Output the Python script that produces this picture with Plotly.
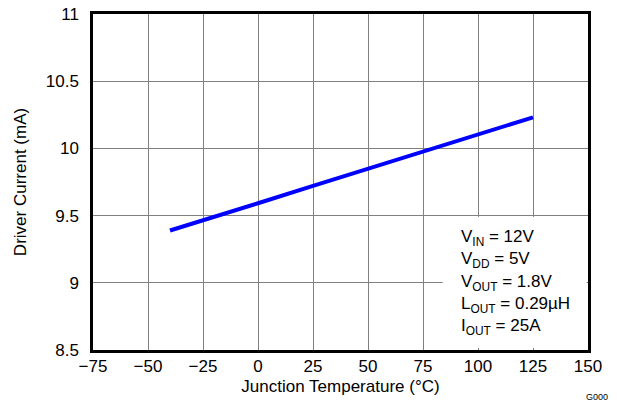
import plotly.graph_objects as go

temps = [-40, -25, 0, 25, 50, 75, 100, 125]
current = [9.389, 9.468, 9.592, 9.721, 9.85, 9.976, 10.105, 10.231]
x_ticks = [-75, -50, -25, 0, 25, 50, 75, 100, 125, 150]
y_ticks = [8.5, 9, 9.5, 10, 10.5, 11]
y_labels = ["8.5", "9", "9.5", "10", "10.5", "11"]
cond_lines = ["V<sub>IN</sub> = 12V", "V<sub>DD</sub> = 5V", "V<sub>OUT</sub> = 1.8V",
              "L<sub>OUT</sub> = 0.29µH", "I<sub>OUT</sub> = 25A"]

FONT = "Liberation Sans, Arial, sans-serif"
OFF = 8  # page body margin
W, H = 621 - OFF, 404 - OFF
L, T = 93 - OFF, 14 - OFF
PW, PH = 495, 336
R, B = W - L - PW, H - T - PH

def px(xp):
    return (xp - OFF - L) / PW

def py(yp):
    return 1 - (yp - OFF - T) / PH

fig = go.Figure()
fig.add_trace(go.Scatter(x=temps, y=current, mode="lines",
                         line=dict(color="#0000ff", width=4), showlegend=False))

fig.add_shape(type="rect", xref="x", yref="y", x0=84, x1=149.4, y0=8.515, y1=9.49,
              fillcolor="white", line=dict(width=0), layer="above")

ann_y = 238
for i, t in enumerate(cond_lines):
    fig.add_annotation(text=t, xref="paper", yref="paper",
                       x=px(459), y=py(ann_y + i * 22.3),
                       xanchor="left", yanchor="middle", showarrow=False,
                       font=dict(family=FONT, size=17, color="black"))

fig.add_annotation(text="G000", xref="paper", yref="paper",
                   x=px(610), y=py(397),
                   xanchor="right", yanchor="middle", showarrow=False,
                   font=dict(family=FONT, size=9, color="black"))

fig.update_layout(
    width=W, height=H,
    margin=dict(l=L, r=R, t=T, b=B),
    paper_bgcolor="white", plot_bgcolor="white",
    font=dict(family=FONT, size=17, color="black"),
    xaxis=dict(range=[-75, 150], tickvals=x_ticks, showgrid=True, automargin=False,
               gridcolor="#808080", gridwidth=1, zeroline=False,
               showline=True, linecolor="black", linewidth=2.5, mirror=True,
               ticks="", ticklen=0, ticklabelstandoff=-1, ticklabeloverflow="allow",
               title=dict(text="Junction Temperature (°C)", standoff=5,
                          font=dict(size=17))),
    yaxis=dict(range=[8.5, 11], tickvals=y_ticks, ticktext=y_labels, showgrid=True,
               automargin=False,
               gridcolor="#808080", gridwidth=1, zeroline=False,
               showline=True, linecolor="black", linewidth=2.5, mirror=True,
               ticks="", ticklen=0, ticklabelstandoff=8, ticklabeloverflow="allow",
               title=dict(text="Driver Current (mA)", standoff=15,
                          font=dict(size=17))),
)

fig.write_html("out.html")
